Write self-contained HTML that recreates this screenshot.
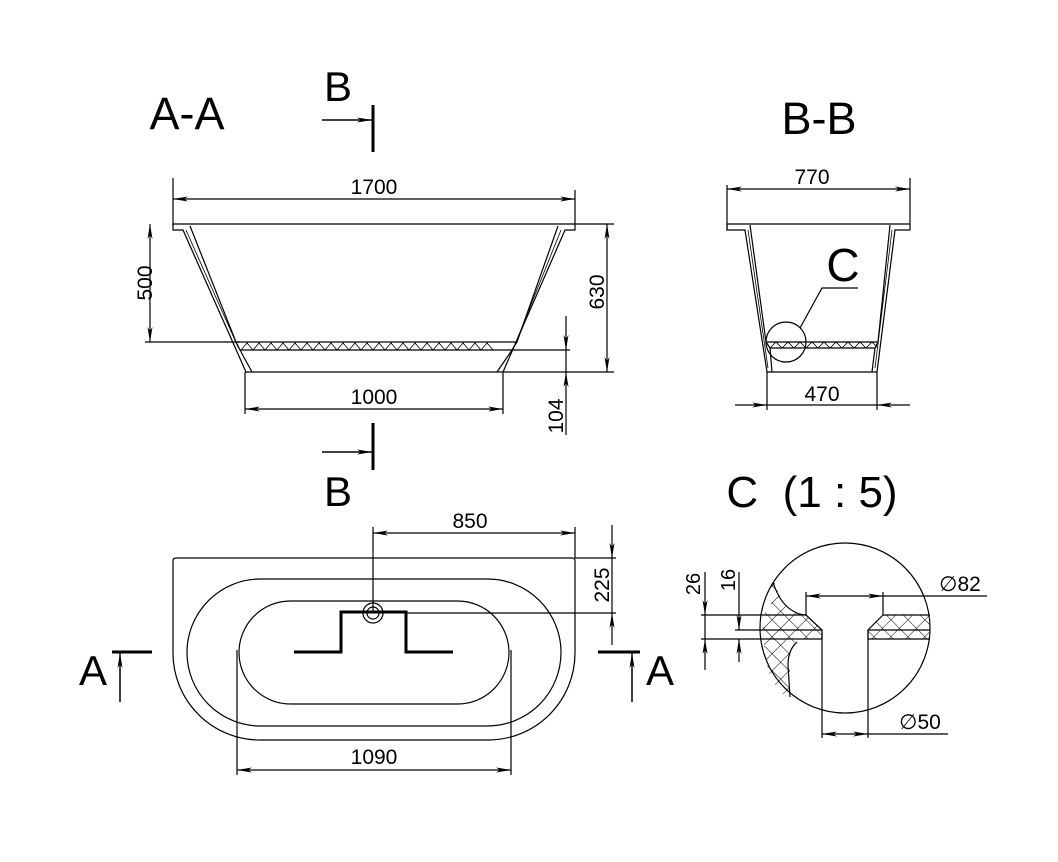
<!DOCTYPE html>
<html><head><meta charset="utf-8"><style>
html,body{margin:0;padding:0;background:#fff}
svg{display:block}
text{font-family:"Liberation Sans",Arial,sans-serif;fill:#000}
</style></head><body>
<svg width="1058" height="862" viewBox="0 0 1058 862" xmlns="http://www.w3.org/2000/svg">
<defs>
<marker id="ae" markerWidth="16" markerHeight="8" refX="15" refY="4" orient="auto" markerUnits="userSpaceOnUse"><path d="M0,1.5 L15,4 L0,6.5 L4,4 Z" fill="#000"/></marker>
<marker id="as" markerWidth="16" markerHeight="8" refX="1" refY="4" orient="auto" markerUnits="userSpaceOnUse"><path d="M16,1.5 L1,4 L16,6.5 L12,4 Z" fill="#000"/></marker>
<pattern id="hx" width="12" height="12" patternUnits="userSpaceOnUse" patternTransform="rotate(45)"><path d="M0,0 H12 M0,0 V12" stroke="#000" stroke-width="1"/></pattern>
</defs>
<g fill="none" stroke="#000" stroke-width="1.2">

<!-- ===== A-A section ===== -->
<line x1="173" y1="224" x2="614" y2="224"/>
<path d="M173,224 V230 H183 L246,372 H503 L565,230 H575 V224"/>
<path d="M190,226 L236,342 H517 L558,226"/>
<path d="M236,342 L240,350 H512 L517,342"/>
<path d="M240,350 L252,372 M512,350 L497,372"/>
<path d="M186,230 L238,347 M561,230 L514,347" stroke-width="0.8"/>
<path d="M241,350 l6,-7 l6,7 l6,-7 l6,7 l6,-7 l6,7 l6,-7 l6,7 l6,-7 l6,7 l6,-7 l6,7 l6,-7 l6,7 l6,-7 l6,7 l6,-7 l6,7 l6,-7 l6,7 l6,-7 l6,7 l6,-7 l6,7 l6,-7 l6,7 l6,-7 l6,7 l6,-7 l6,7 l6,-7 l6,7 l6,-7 l6,7 l6,-7 l6,7 l6,-7 l6,7 l6,-7 l6,7 l6,-7 l6,7" stroke-width="0.8"/>
<!-- 1700 -->
<line x1="173" y1="178" x2="173" y2="226"/><line x1="575" y1="190" x2="575" y2="224"/>
<line x1="173" y1="199" x2="575" y2="199" marker-start="url(#as)" marker-end="url(#ae)"/>
<!-- 500 -->
<line x1="145" y1="342" x2="240" y2="342"/>
<line x1="150" y1="224" x2="150" y2="342" marker-start="url(#as)" marker-end="url(#ae)"/>
<!-- 630 -->
<line x1="503" y1="372" x2="614" y2="372"/>
<line x1="607" y1="224" x2="607" y2="372" marker-start="url(#as)" marker-end="url(#ae)"/>
<!-- 104 -->
<line x1="512" y1="350" x2="570" y2="350"/>
<line x1="566" y1="316" x2="566" y2="350" marker-end="url(#ae)"/>
<line x1="566" y1="435" x2="566" y2="372" marker-end="url(#ae)"/>
<line x1="566" y1="350" x2="566" y2="372"/>
<!-- 1000 -->
<line x1="245" y1="372" x2="245" y2="414"/><line x1="503" y1="372" x2="503" y2="414"/>
<line x1="245" y1="409" x2="503" y2="409" marker-start="url(#as)" marker-end="url(#ae)"/>
<!-- B markers -->
<line x1="373" y1="105" x2="373" y2="152" stroke-width="3"/>
<line x1="322" y1="120" x2="372" y2="120" marker-end="url(#ae)" stroke-width="1.5"/>
<line x1="373" y1="423" x2="373" y2="470" stroke-width="3"/>
<line x1="322" y1="452" x2="372" y2="452" marker-end="url(#ae)" stroke-width="1.5"/>

<!-- ===== B-B section ===== -->
<line x1="727" y1="224" x2="910" y2="224"/>
<path d="M727,224 V230 H745 L767,372 H877 L895,230 H910 V224"/>
<path d="M750,225 L766,342 H878 L890,225"/>
<path d="M766,342 L770,348 H875 L878,342"/>
<path d="M770,348 L772,372 M875,348 L872,372"/>
<path d="M748,230 L768,368 M892,230 L875,368" stroke-width="0.8"/>
<path d="M770,348 l6,-6 l6,6 l6,-6 l6,6 l6,-6 l6,6 l6,-6 l6,6 l6,-6 l6,6 l6,-6 l6,6 l6,-6 l6,6 l6,-6 l6,6 l6,-6 l6,6" stroke-width="0.8"/>
<line x1="727" y1="185" x2="727" y2="230"/><line x1="910" y1="178" x2="910" y2="224"/>
<line x1="727" y1="189" x2="910" y2="189" marker-start="url(#as)" marker-end="url(#ae)"/>
<line x1="767" y1="372" x2="767" y2="410"/><line x1="877" y1="372" x2="877" y2="410"/>
<line x1="735" y1="405" x2="767" y2="405" marker-end="url(#ae)"/>
<line x1="910" y1="405" x2="877" y2="405" marker-end="url(#ae)"/>
<line x1="767" y1="405" x2="877" y2="405"/>
<circle cx="786" cy="342" r="20"/>
<polyline points="800,328 822,288 858,288"/>

<!-- ===== Plan view ===== -->
<path d="M176,558 H572 Q575,558 575,561 V653 A87,87 0 0 1 488,740 H260 A87,87 0 0 1 173,653 V561 Q173,558 176,558 Z"/>
<rect x="187" y="579" width="374" height="147" rx="73.5" ry="73.5"/>
<rect x="239" y="601" width="270" height="103" rx="51.5" ry="51.5"/>
<circle cx="373" cy="613" r="10"/><circle cx="373" cy="613" r="6"/>
<polyline points="294,652 341,652 341,612 406,612 406,652 453,652" stroke-width="3"/>
<!-- 850 -->
<line x1="373" y1="527" x2="373" y2="613"/><line x1="575" y1="527" x2="575" y2="558"/>
<line x1="373" y1="533" x2="575" y2="533" marker-start="url(#as)" marker-end="url(#ae)"/>
<!-- 225 -->
<line x1="575" y1="558" x2="616" y2="558"/><line x1="406" y1="613" x2="616" y2="613"/>
<line x1="612" y1="525" x2="612" y2="558" marker-end="url(#ae)"/>
<line x1="612" y1="645" x2="612" y2="613" marker-end="url(#ae)"/>
<line x1="612" y1="558" x2="612" y2="613"/>
<!-- 1090 -->
<line x1="237" y1="650" x2="237" y2="775"/><line x1="511" y1="650" x2="511" y2="775"/>
<line x1="237" y1="770" x2="511" y2="770" marker-start="url(#as)" marker-end="url(#ae)"/>
<!-- A markers -->
<line x1="112" y1="652" x2="152" y2="652" stroke-width="3"/>
<line x1="120" y1="702" x2="120" y2="653" marker-end="url(#ae)" stroke-width="1.5"/>
<line x1="598" y1="652" x2="640" y2="652" stroke-width="3"/>
<line x1="632" y1="702" x2="632" y2="653" marker-end="url(#ae)" stroke-width="1.5"/>

<!-- ===== Detail C ===== -->
<path d="M762,615 L806,615 L822,630 L822,639 L797,639 Q790,645 790,665 L790,700 Q775,690 768,670 Q763,645 762,615 Z" fill="url(#hx)" stroke="none"/>
<path d="M770,585 Q777,605 762,615 L806,615 L790,612 Q780,600 775,583 Z" fill="url(#hx)" stroke="none"/>
<path d="M883,615 L930,615 L930,639 L868,639 L868,630 Z" fill="url(#hx)" stroke="none"/>
<circle cx="845" cy="628" r="85"/>
<path d="M773,582 Q780,605 795,612 Q800,615 806,615"/>
<path d="M797,642 Q788,650 788,665 L790,697"/>
<line x1="701" y1="615" x2="806" y2="615"/><line x1="883" y1="615" x2="930" y2="615"/>
<line x1="735" y1="630" x2="822" y2="630"/><line x1="868" y1="630" x2="930" y2="630"/>
<line x1="701" y1="639" x2="822" y2="639"/><line x1="868" y1="639" x2="930" y2="639"/>
<path d="M806,615 L822,630 V639 M883,615 L868,630 V639"/>
<line x1="705" y1="572" x2="705" y2="615" marker-end="url(#ae)"/>
<line x1="705" y1="670" x2="705" y2="639" marker-end="url(#ae)"/>
<line x1="705" y1="615" x2="705" y2="639"/>
<line x1="739" y1="572" x2="739" y2="630" marker-end="url(#ae)"/>
<line x1="739" y1="662" x2="739" y2="639" marker-end="url(#ae)"/>
<line x1="806" y1="592" x2="806" y2="615"/><line x1="883" y1="592" x2="883" y2="615"/>
<line x1="806" y1="596" x2="883" y2="596" marker-start="url(#as)" marker-end="url(#ae)"/>
<line x1="883" y1="596" x2="987" y2="596"/>
<line x1="822" y1="630" x2="822" y2="738"/><line x1="868" y1="630" x2="868" y2="738"/>
<line x1="822" y1="734" x2="868" y2="734" marker-start="url(#as)" marker-end="url(#ae)"/>
<line x1="868" y1="734" x2="948" y2="734"/>
</g>

<!-- Text -->
<text x="187" y="129" font-size="45" text-anchor="middle">A-A</text>
<text x="338" y="101" font-size="42" text-anchor="middle">B</text>
<text x="338" y="506" font-size="42" text-anchor="middle">B</text>
<text x="374" y="194" font-size="21" text-anchor="middle">1700</text>
<text x="374" y="404" font-size="21" text-anchor="middle">1000</text>
<text transform="translate(152,283) rotate(-90)" font-size="21" text-anchor="middle">500</text>
<text transform="translate(604,292) rotate(-90)" font-size="21" text-anchor="middle">630</text>
<text transform="translate(563,416) rotate(-90)" font-size="21" text-anchor="middle">104</text>
<text x="819" y="134" font-size="45" text-anchor="middle">B-B</text>
<text x="812" y="184" font-size="21" text-anchor="middle">770</text>
<text x="822" y="401" font-size="21" text-anchor="middle">470</text>
<text x="843" y="281" font-size="46" text-anchor="middle">C</text>
<text x="470" y="528" font-size="21" text-anchor="middle">850</text>
<text transform="translate(609,585) rotate(-90)" font-size="21" text-anchor="middle">225</text>
<text x="374" y="764" font-size="21" text-anchor="middle">1090</text>
<text x="93" y="685" font-size="42" text-anchor="middle">A</text>
<text x="660" y="685" font-size="42" text-anchor="middle">A</text>
<text x="812" y="507" font-size="44" text-anchor="middle" xml:space="preserve">C  (1 : 5)</text>
<text transform="translate(700,584) rotate(-90)" font-size="20" text-anchor="middle">26</text>
<text transform="translate(735,580) rotate(-90)" font-size="20" text-anchor="middle">16</text>
<text x="960" y="591" font-size="21" text-anchor="middle">∅82</text>
<text x="920" y="729" font-size="21" text-anchor="middle">∅50</text>
</svg>
</body></html>
